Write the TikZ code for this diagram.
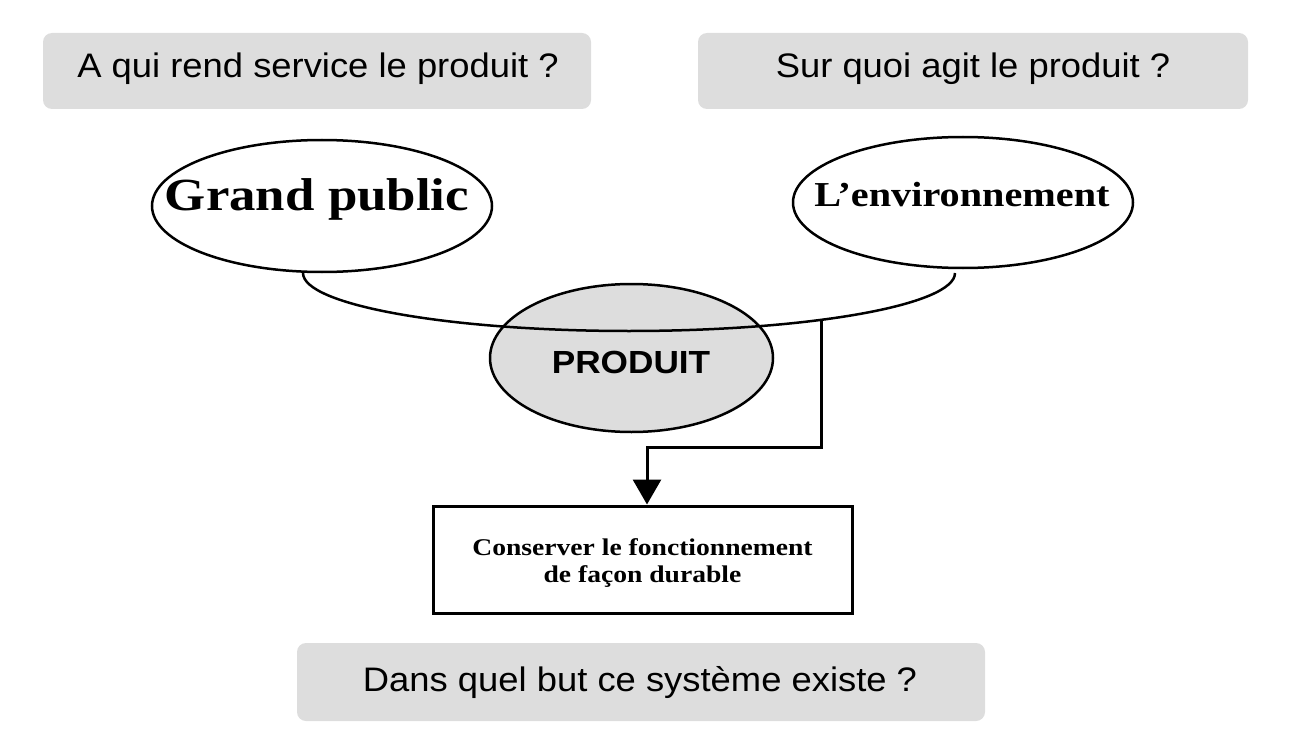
\documentclass[tikz,border=0pt]{standalone}
\usepackage{fontspec}
\setmainfont{Liberation Serif}
\newfontfamily\qfont{Liberation Sans}[FakeStretch=1.07]
\newfontfamily\pfont{Liberation Sans}[FakeStretch=1.1]
\newfontfamily\cfont{Liberation Serif}[FakeStretch=1.15]
\usetikzlibrary{shapes.geometric,arrows.meta}
\definecolor{boxgray}{HTML}{DDDDDD}
\begin{document}
\begin{tikzpicture}[x=1pt,y=-1pt,
  qbox/.style={fill=boxgray, draw=none, rounded corners=9pt, inner sep=0pt},
  qtext/.style={font=\qfont\fontsize{34}{40}\selectfont, anchor=base, inner sep=0pt},
  oval/.style={ellipse, draw, line width=2.5pt, inner sep=0pt},
  ovaltext/.style={font=\cfont\bfseries, anchor=base, inner sep=0pt},
  link/.style={line width=2.5pt},
  flow/.style={line width=3pt, -{Triangle[length=25pt,width=28pt]}}
]
\useasboundingbox (0,0) rectangle (1296,741);

% question boxes
\node[qbox, minimum width=548pt, minimum height=76pt] (q1) at (317,71) {};
\node[qbox, minimum width=550pt, minimum height=76pt] (q2) at (973,71) {};
\node[qbox, minimum width=688pt, minimum height=78pt] (q3) at (641,682) {};
\node[qtext] (q1t) at (318,78) {A qui rend service le produit ?};
\node[qtext] (q2t) at (973,78) {Sur quoi agit le produit ?};
\node[qtext] (q3t) at (640,691) {Dans quel but ce système existe ?};

% ellipses
\node[oval, minimum width=340pt, minimum height=132pt] (gp) at (322,206) {};
\node[ovaltext, font=\cfont\bfseries\fontsize{46}{50}\selectfont] (gpt) at (317,211) {Grand public};
\node[oval, minimum width=340pt, minimum height=131pt] (env) at (963,202.5) {};
\node[ovaltext, font=\cfont\bfseries\fontsize{35}{40}\selectfont] (envt) at (962,206) {L’environnement};
\node[oval, fill=boxgray, minimum width=283pt, minimum height=148pt] (prod) at (631.5,358) {};
\node[font=\pfont\bfseries\fontsize{32}{36}\selectfont, anchor=base, inner sep=0pt] (prodt) at (631,373) {PRODUIT};

% arc linking the two actors through the product
\coordinate (aL) at (303,273);
\coordinate (aB) at (629,331);
\coordinate (aR) at (955,273);
\draw[link] (aL) .. controls (303,305) and (449,331) .. (aB)
                 .. controls (809,331) and (955,305) .. (aR);

% goal box
\node[draw, line width=3pt, minimum width=419pt, minimum height=107pt, inner sep=0pt] (goal) at (642.5,559.5) {};
\node[align=center, inner sep=0pt, font=\cfont\bfseries\fontsize{24}{27}\selectfont] (goalt) at (642.5,563)
      {Conserver le fonctionnement\\de façon durable};

% connector
\coordinate (j) at (821,320);
\coordinate (k) at (647,447);
\draw[flow] (j) |- (k) -- (k |- goal.north);
\end{tikzpicture}
\end{document}
